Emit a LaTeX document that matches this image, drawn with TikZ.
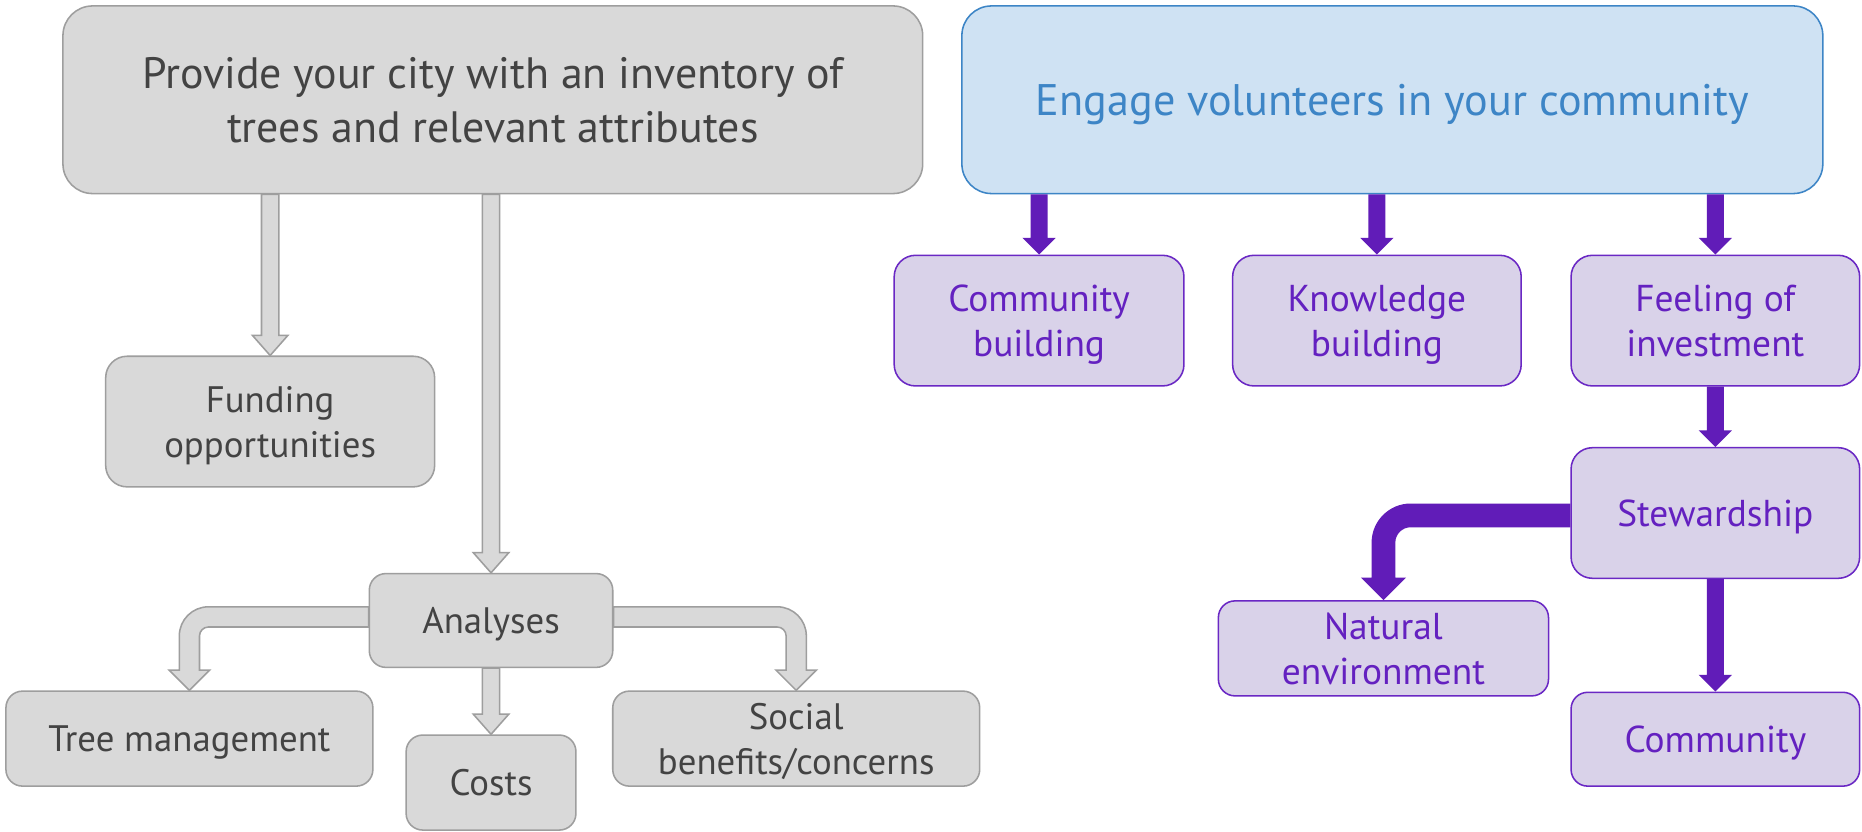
\documentclass[tikz,border=0pt]{standalone}
\usepackage{fontspec}
\setmainfont{PT Sans}
\usetikzlibrary{calc}
\definecolor{gfill}{HTML}{D9D9D9}
\definecolor{gline}{HTML}{9E9E9E}
\definecolor{gtext}{HTML}{434343}
\definecolor{bfill}{HTML}{CFE2F3}
\definecolor{bline}{HTML}{3D85C6}
\definecolor{pfill}{HTML}{D9D2E9}
\definecolor{pline}{HTML}{6A28C4}
\definecolor{ptext}{HTML}{6421C0}
\definecolor{parrow}{HTML}{611CB8}
% straight block arrow going down: style, start, tip, shaft half width, head half width, head length
\newcommand\blockdown[6]{\path[#1] let \p1=(#2), \p2=(#3) in
 (\x2-#4,\y1) -- (\x2-#4,\y2+#6) -- (\x2-#5,\y2+#6) -- (\x2,\y2) -- (\x2+#5,\y2+#6) -- (\x2+#4,\y2+#6) -- (\x2+#4,\y1) -- cycle;}
% bent block arrow: left then down
\newcommand\blockbendL[7]{\path[#1] let \p1=(#2), \p2=(#3) in
 (\x1,\y1+#4) -- (\x2-#4+#7+#4,\y1+#4) arc[start angle=90,end angle=180,radius=#7+#4]
 -- (\x2-#4,\y2+#6) -- (\x2-#5,\y2+#6) -- (\x2,\y2) -- (\x2+#5,\y2+#6) -- (\x2+#4,\y2+#6)
 -- (\x2+#4,\y1-#7) arc[start angle=180,end angle=90,radius=#7-#4] -- (\x1,\y1-#4) -- cycle;}
% bent block arrow: right then down
\newcommand\blockbendR[7]{\path[#1] let \p1=(#2), \p2=(#3) in
 (\x1,\y1+#4) -- (\x2+#4-#7-#4,\y1+#4) arc[start angle=90,end angle=0,radius=#7+#4]
 -- (\x2+#4,\y2+#6) -- (\x2+#5,\y2+#6) -- (\x2,\y2) -- (\x2-#5,\y2+#6) -- (\x2-#4,\y2+#6)
 -- (\x2-#4,\y1-#7) arc[start angle=0,end angle=90,radius=#7-#4] -- (\x1,\y1-#4) -- cycle;}
\tikzset{
  gbox/.style={draw=gline, fill=gfill, text=gtext, line width=1.3pt, rounded corners=14pt,
    align=center, inner sep=0pt, text depth=-2pt, font=\fontsize{31}{38}\selectfont},
  pbox/.style={draw=pline, fill=pfill, text=ptext, line width=1.3pt, rounded corners=18pt,
    align=center, inner sep=0pt, text depth=-2pt, font=\fontsize{31.5}{38}\selectfont},
  garrow/.style={draw=gline, fill=gfill, line width=1.3pt, line join=miter},
  parrowst/.style={fill=parrow},
}
\begin{document}
\begin{tikzpicture}[x=1pt,y=-1pt]
\useasboundingbox[fill=white] (0,0) rectangle (1568,700);
% left side
\node[gbox, rounded corners=25pt, minimum width=724pt, minimum height=158pt,
  font=\fontsize{37}{45}\selectfont] (top) at (415,84) {Provide your city with an inventory of\\trees and relevant attributes};
\node[gbox, rounded corners=18pt, minimum width=277pt, minimum height=110pt] (fund) at (227.5,355) {Funding\\opportunities};
\node[gbox, minimum width=205pt, minimum height=79pt] (an) at (413.5,522.5) {Analyses};
\node[gbox, minimum width=309pt, minimum height=80pt] (tm) at (159.5,622) {Tree management};
\node[gbox, minimum width=143pt, minimum height=80pt] (costs) at (413.5,659) {Costs};
\node[gbox, minimum width=309pt, minimum height=80pt] (social) at (670.5,622) {Social\\benefits/concerns};
% right side
\node[draw=bline, fill=bfill, text=bline, line width=1.3pt, rounded corners=25pt, text depth=-2pt,
  minimum width=725pt, minimum height=158pt, font=\fontsize{37.2}{45}\selectfont] (engage) at (1172.5,84) {Engage volunteers in your community};
\node[pbox, minimum width=244pt, minimum height=110pt] (cb) at (875,270) {Community\\building};
\node[pbox, minimum width=243pt, minimum height=110pt] (kb) at (1159.5,270) {Knowledge\\building};
\node[pbox, minimum width=243pt, minimum height=110pt] (fi) at (1444.5,270) {Feeling of\\investment};
\node[pbox, minimum width=243pt, minimum height=110pt] (stew) at (1444.5,432) {Stewardship};
\node[pbox, rounded corners=14pt, minimum width=278pt, minimum height=80pt] (nat) at (1165,546) {Natural\\environment};
\node[pbox, rounded corners=14pt, minimum width=243pt, minimum height=79pt] (comm) at (1444.5,622.5) {Community};
% gray arrows
\blockdown{garrow}{top.south -| fund.north}{fund.north}{7.3pt}{15pt}{17pt}
\blockdown{garrow}{top.south -| an.north}{an.north}{7.3pt}{15pt}{17pt}
\blockdown{garrow}{an.south -| costs.north}{costs.north}{7.3pt}{15pt}{17pt}
\blockbendL{garrow}{[yshift=3pt]an.west}{tm.north}{8.5pt}{17pt}{17pt}{16pt}
\blockbendR{garrow}{[yshift=3pt]an.east}{social.north}{8.5pt}{17pt}{17pt}{16pt}
% purple arrows
\blockdown{parrowst}{engage.south -| cb.north}{cb.north}{7.2pt}{14pt}{14pt}
\blockdown{parrowst}{engage.south -| kb.north}{kb.north}{7.2pt}{14pt}{14pt}
\blockdown{parrowst}{engage.south -| fi.north}{fi.north}{7.2pt}{14pt}{14pt}
\blockdown{parrowst}{fi.south}{stew.north}{7.2pt}{14pt}{14pt}
\blockdown{parrowst}{stew.south}{comm.north}{7.2pt}{14pt}{14pt}
\blockbendL{parrowst}{[yshift=-2pt]stew.west}{nat.north}{10pt}{19pt}{19pt}{23pt}
\end{tikzpicture}
\end{document}
